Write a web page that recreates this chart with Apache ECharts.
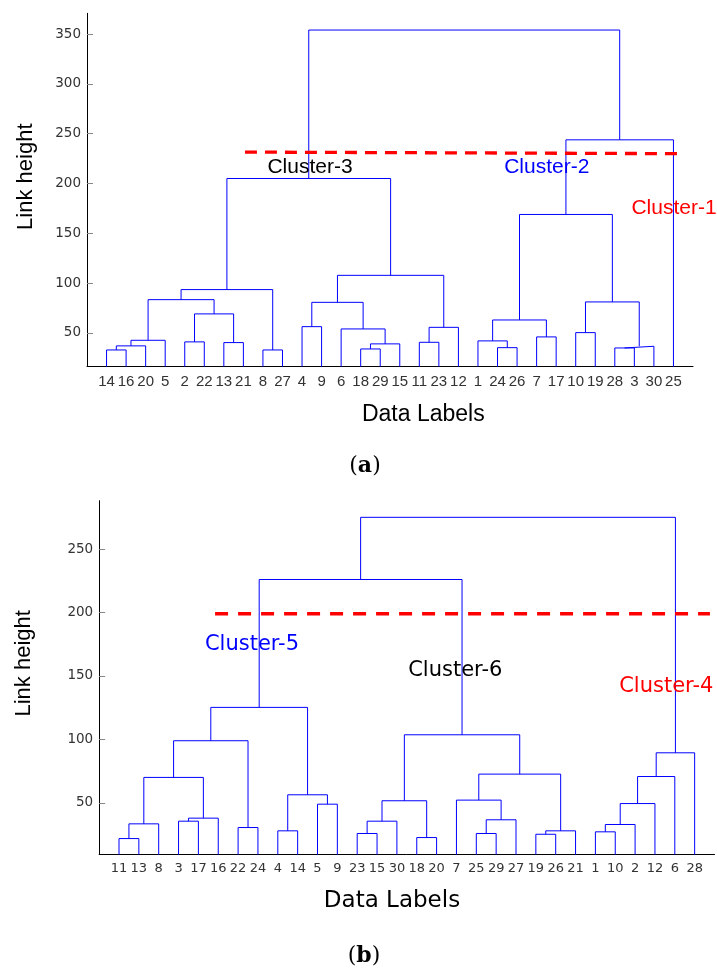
<!DOCTYPE html>
<html><head><meta charset="utf-8">
<script src="https://cdn.jsdelivr.net/npm/echarts/dist/echarts.min.js"></script>
<style>html,body{margin:0;padding:0;background:#fff}#c{width:717px;height:972px}</style>
</head><body><div id="c"></div>
<script>
// ---------- Chart (a) ----------
const topLeaves = [14,16,20,5,2,22,13,21,8,27,4,9,6,18,29,15,11,23,12,1,24,26,7,17,10,19,28,3,30,25];
// merges: [childA, childB, height]; numbers = leaf labels, 'mK' = K-th merge
const topMerges = [
  [14,16,32.9],['m0',20,37.0],['m1',5,42.6],[2,22,41.0],[13,21,40.3],['m3','m4',69.1],
  ['m2','m5',83.4],[8,27,32.9],['m6','m7',93.5],[4,9,56.3],[18,29,33.9],['m10',15,39.0],
  [6,'m11',54.0],['m9','m12',80.7],[11,23,40.6],['m14',12,55.6],['m13','m15',107.8],
  ['m8','m16',205.0],[24,26,35.2],[1,'m18',42.0],[7,17,46.0],['m19','m20',63.0],
  [10,19,50.3],[28,3,34.9],['m23',30,36.6],['m22','m24',81.1],['m21','m25',168.9],
  ['m26',25,243.8],['m17','m27',354.0]
];
const topTicks = [50,100,150,200,250,300,350];
const topCutX = [8.08, 30.35];
const topCutY = [231.5, 229.9];
const topClusterNames = ['Cluster-3','Cluster-2','Cluster-1'];
const topClusterX = [11.41, 23.52, 30.03];
const topClusterY = [216.0, 216.5, 175.4];
const topClusterColors = ['#000000','#0000ff','#ff0000'];

// ---------- Chart (b) ----------
const botLeaves = [11,13,8,3,17,16,22,24,4,14,5,9,23,15,30,18,20,7,25,29,27,19,26,21,1,10,2,12,6,28];
const botMerges = [
  [11,13,21.8],['m0',8,33.4],[3,17,35.5],['m2',16,37.9],['m1','m3',70.0],[22,24,30.5],
  ['m4','m5',98.9],[4,14,27.9],[5,9,48.9],['m7','m8',56.3],['m6','m9',125.2],
  [23,15,25.8],['m11',30,35.5],[18,20,22.6],['m12','m13',51.6],[25,29,25.8],
  ['m15',27,36.6],[7,'m16',52.1],[19,26,25.2],['m18',21,27.9],['m17','m19',72.6],
  ['m14','m20',103.6],['m10','m21',226.0],[1,10,27.1],['m23',2,32.9],['m24',12,49.4],
  ['m25',6,70.7],['m26',28,89.4],['m22','m27',275.0]
];
const botTicks = [50,100,150,200,250];
const botCutX = [5.84, 30.77];
const botCutY = [199.0, 199.0];
const botClusterNames = ['Cluster-5','Cluster-6','Cluster-4'];
const botClusterX = [7.70, 17.94, 28.57];
const botClusterY = [174.6, 154.6, 141.5];
const botClusterColors = ['#0000ff','#000000','#ff0000'];

function buildTree(leaves, merges){
  const pos = {}; leaves.forEach((l,i)=>{pos[l]=i+1;});
  const nodes = [];
  const get = c => (typeof c === 'string') ? nodes[+c.slice(1)] : {x: pos[c], h: 0};
  const segs = [];
  merges.forEach(([a,b,h]) => {
    const A = get(a), B = get(b);
    segs.push([[A.x,A.h],[A.x,h],[B.x,h],[B.x,B.h]]);
    nodes.push({x:(A.x+B.x)/2, h:h});
  });
  return segs;
}

const series = [];
function addTree(leaves, merges, idx){
  buildTree(leaves, merges).forEach(s => series.push({
    type:'line', xAxisIndex:idx, yAxisIndex:idx, data:s, symbol:'none', silent:true,
    clip:true, lineStyle:{color:'#0000ff', width:1}, z:2
  }));
}
addTree(topLeaves, topMerges, 0);
addTree(botLeaves, botMerges, 1);

series.push({type:'line', xAxisIndex:0, yAxisIndex:0, symbol:'none', silent:true, z:3,
  data: topCutX.map((x,i)=>[x, topCutY[i]]),
  lineStyle:{color:'#ff0000', width:3.3, type:[12,8]}});
series.push({type:'line', xAxisIndex:1, yAxisIndex:1, symbol:'none', silent:true, z:3, clip:false,
  data: botCutX.map((x,i)=>[x, botCutY[i]]),
  lineStyle:{color:'#ff0000', width:3.3, type:[13,10]}});

function addLabels(names, xs, ys, colors, idx, font, size){
  series.push({type:'scatter', xAxisIndex:idx, yAxisIndex:idx, symbolSize:1, silent:true, z:5, clip:false,
    itemStyle:{color:'rgba(0,0,0,0)', opacity:1},
    data: names.map((n,i)=>({name:n, value:[xs[i], ys[i]],
      itemStyle:{opacity:1},
      label:{show:true, position:'inside', formatter:n, color:colors[i], opacity:1,
        textBorderWidth:0, fontSize:size, fontFamily:font}}))
  });
}
addLabels(topClusterNames, topClusterX, topClusterY, topClusterColors, 0, 'Liberation Sans', 21);
addLabels(botClusterNames, botClusterX, botClusterY, botClusterColors, 1, 'DejaVu Sans', 21);

const leafPos = Array.from({length:30}, (_,i)=>i+1);

function xAx(idx, leaves, font, size){
  return {type:'value', gridIndex:idx, min:0, max:31,
    axisLine:{show:true, onZero:false, lineStyle:{color:'#000', width:1}},
    axisTick:{show:false}, splitLine:{show:false},
    axisLabel:{customValues:leafPos, formatter:v=>String(leaves[Math.round(v)-1]),
      color:'#333', fontFamily:font, fontSize:size, margin:8, hideOverlap:false}};
}
function yAx(idx, min, max, ticks){
  return {type:'value', gridIndex:idx, min:min, max:max,
    axisLine:{show:true, onZero:false, lineStyle:{color:'#000', width:1}},
    axisTick:{show:true, inside:true, length:6, customValues:ticks, lineStyle:{color:'#888'}},
    splitLine:{show:false},
    axisLabel:{customValues:ticks, color:'#333', fontFamily:'DejaVu Sans', fontSize:13.5, margin:6}};
}

const chart = echarts.init(document.getElementById('c'), null, {renderer:'canvas'});
chart.setOption({
  animation:false,
  backgroundColor:'#fff',
  grid:[
    {left:87, top:13.3, width:606, height:353},
    {left:99.15, top:500.7, width:615.35, height:353.6}
  ],
  xAxis:[xAx(0, topLeaves, 'Liberation Sans', 15), xAx(1, botLeaves, 'DejaVu Sans', 13)],
  yAxis:[yAx(0, 16.5, 370.8, topTicks), yAx(1, 9.4, 288.1, botTicks)],
  series: series,
  graphic:[
    {type:'text', x:25.8, y:176.7, rotation:Math.PI/2,
      style:{text:'Link height', fontFamily:'Liberation Sans', fontSize:22, fill:'#000', align:'center', verticalAlign:'middle', textAlign:'center', textVerticalAlign:'middle'}},
    {type:'text', x:423.3, y:415,
      style:{text:'Data Labels', fontFamily:'Liberation Sans', fontSize:23, fill:'#000', align:'center', verticalAlign:'middle', textAlign:'center', textVerticalAlign:'middle'}},
    {type:'text', x:24.2, y:663.3, rotation:Math.PI/2,
      style:{text:'Link height', fontFamily:'Liberation Sans', fontSize:22, fill:'#000', align:'center', verticalAlign:'middle', textAlign:'center', textVerticalAlign:'middle'}},
    {type:'text', x:392, y:900.7,
      style:{text:'Data Labels', fontFamily:'DejaVu Sans', fontSize:23, fill:'#000', align:'center', verticalAlign:'middle', textAlign:'center', textVerticalAlign:'middle'}},
    {type:'text', x:365, y:466.7,
      style:{text:'({b|a})', fontFamily:'DejaVu Serif', fontSize:22, fill:'#000', align:'center', verticalAlign:'middle', textAlign:'center', textVerticalAlign:'middle',
        rich:{b:{fontFamily:'DejaVu Serif', fontSize:22, fontWeight:'bold', fill:'#000'}}}},
    {type:'text', x:364, y:956.7,
      style:{text:'({b|b})', fontFamily:'DejaVu Serif', fontSize:22, fill:'#000', align:'center', verticalAlign:'middle', textAlign:'center', textVerticalAlign:'middle',
        rich:{b:{fontFamily:'DejaVu Serif', fontSize:22, fontWeight:'bold', fill:'#000'}}}}
  ]
});
</script>
</body></html>
